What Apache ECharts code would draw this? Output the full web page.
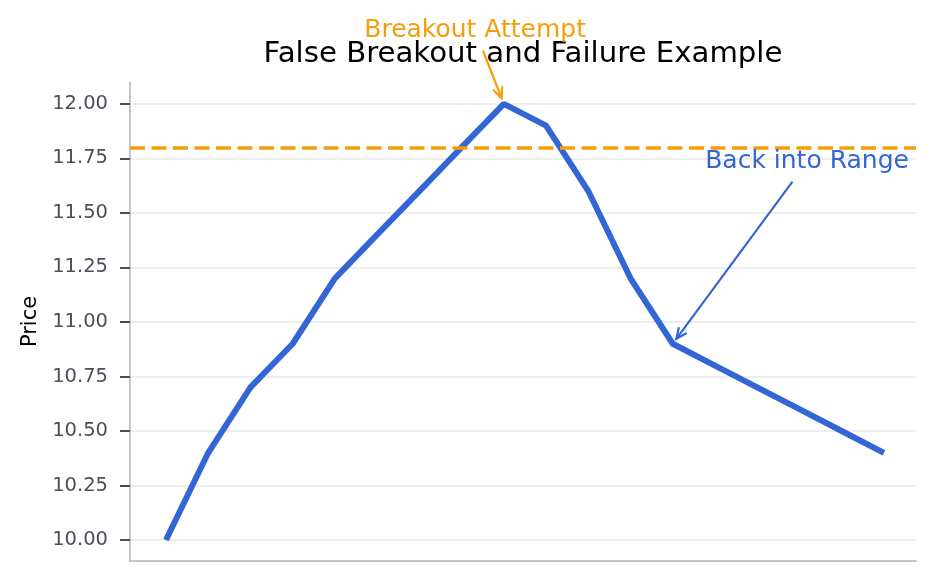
<!DOCTYPE html>
<html>
<head>
<meta charset="utf-8">
<script src="https://cdn.jsdelivr.net/npm/echarts@6/dist/echarts.min.js"></script>
<style>
html,body{margin:0;padding:0;background:#fff;}
#main{width:937px;height:581px;}
</style>
</head>
<body>
<div id="main"></div>
<script>
// ---- data ----
const steps = [0,1,2,3,4,5,6,7,8,9,10,11,12,13,14,15,16,17];
const prices = [10.0,10.4,10.7,10.9,11.2,11.4,11.6,11.8,12.0,11.9,11.6,11.2,10.9,10.8,10.7,10.6,10.5,10.4];
const resistanceLevel = 11.8;
const yTicks = [10.0,10.25,10.5,10.75,11.0,11.25,11.5,11.75,12.0];
const annoLabels = ['Breakout Attempt','Back into Range'];
const annoTextPos = [[7.32,12.335],[15.18,11.734]];
const annoTarget = [[8,12.0],[12,10.9]];
const annoColors = ['#f59e0b','#3366d4'];

const FONT = 'DejaVu Sans';
const chart = echarts.init(document.getElementById('main'), null, {renderer:'canvas'});

const option = {
  animation:false,
  backgroundColor:'#ffffff',
  title:{
    text:'False Breakout and Failure Example',
    left:518, top:35, textAlign:'center',
    textStyle:{fontFamily:FONT,fontSize:29.2,fontWeight:'normal',color:'#000'}
  },
  grid:{left:130,right:21,top:82,bottom:20},
  xAxis:{
    type:'value', min:-0.852, max:17.76,
    axisLine:{show:true,onZero:false,lineStyle:{color:'#aab4bf',width:1.5}},
    axisTick:{show:false}, axisLabel:{show:false}, splitLine:{show:false}
  },
  yAxis:{
    type:'value', min:9.904, max:12.1,
    name:'Price', nameLocation:'middle', nameGap:89,
    nameTextStyle:{fontFamily:FONT,fontSize:21,color:'#000'},
    axisLine:{show:true,onZero:false,lineStyle:{color:'#aab4bf',width:1.5}},
    axisTick:{show:true,length:10,customValues:yTicks,lineStyle:{color:'#4b5058',width:2}},
    axisLabel:{customValues:yTicks,fontFamily:FONT,fontSize:19.5,color:'#4b5058',margin:22,
      formatter:v=>v.toFixed(2)},
    splitLine:{show:true,lineStyle:{color:'#e6e8eb',width:1.5}}
  },
  series:[{
    type:'line',
    data:steps.map((s,i)=>[s,prices[i]]),
    showSymbol:false, symbol:'none',
    lineStyle:{color:'#3366d4',width:6},
    markLine:{
      silent:true, symbol:['none','none'],
      label:{show:false},
      lineStyle:{color:'#f59e0b',width:3.5,type:[15,6.5]},
      data:[{yAxis:resistanceLevel}]
    },
    z:3
  }]
};
chart.setOption(option);

// annotations (text + open arrows), positioned via the chart's own scales
const ctx = document.createElement('canvas').getContext('2d');
const fsz = 25;
ctx.font = fsz+'px "'+FONT+'"';
const graphics = [];
annoLabels.forEach((lab,i)=>{
  const tp = chart.convertToPixel({gridIndex:0}, annoTextPos[i]);
  const tg = chart.convertToPixel({gridIndex:0}, annoTarget[i]);
  const w = ctx.measureText(lab).width;
  const hw = w/2+4, hh = fsz*0.55+6;
  const dx = tg[0]-tp[0], dy = tg[1]-tp[1];
  const L = Math.hypot(dx,dy), ux = dx/L, uy = dy/L;
  const tExit = Math.min(Math.abs(ux)>1e-6?hw/Math.abs(ux):1e9, Math.abs(uy)>1e-6?hh/Math.abs(uy):1e9);
  const sx = tp[0]+ux*tExit, sy = tp[1]+uy*tExit;
  const ex = tg[0]-ux*6, ey = tg[1]-uy*6;
  const hl = 12, ang = 0.42;
  const ca = Math.cos(ang), sa = Math.sin(ang);
  const bx = -ux, by = -uy;
  const h1 = [ex+hl*(bx*ca-by*sa), ey+hl*(bx*sa+by*ca)];
  const h2 = [ex+hl*(bx*ca+by*sa), ey+hl*(-bx*sa+by*ca)];
  graphics.push({type:'line',silent:true,z:10,shape:{x1:sx,y1:sy,x2:ex,y2:ey},style:{stroke:annoColors[i],lineWidth:2.2}});
  graphics.push({type:'polyline',silent:true,z:10,shape:{points:[h1,[ex,ey],h2]},style:{stroke:annoColors[i],lineWidth:2.2,fill:null}});
  graphics.push({type:'text',silent:true,z:11,x:tp[0],y:tp[1],style:{text:lab,fill:annoColors[i],font:fsz+'px "'+FONT+'"',align:'center',verticalAlign:'middle'}});
});
chart.setOption({graphic:graphics});
</script>
</body>
</html>
